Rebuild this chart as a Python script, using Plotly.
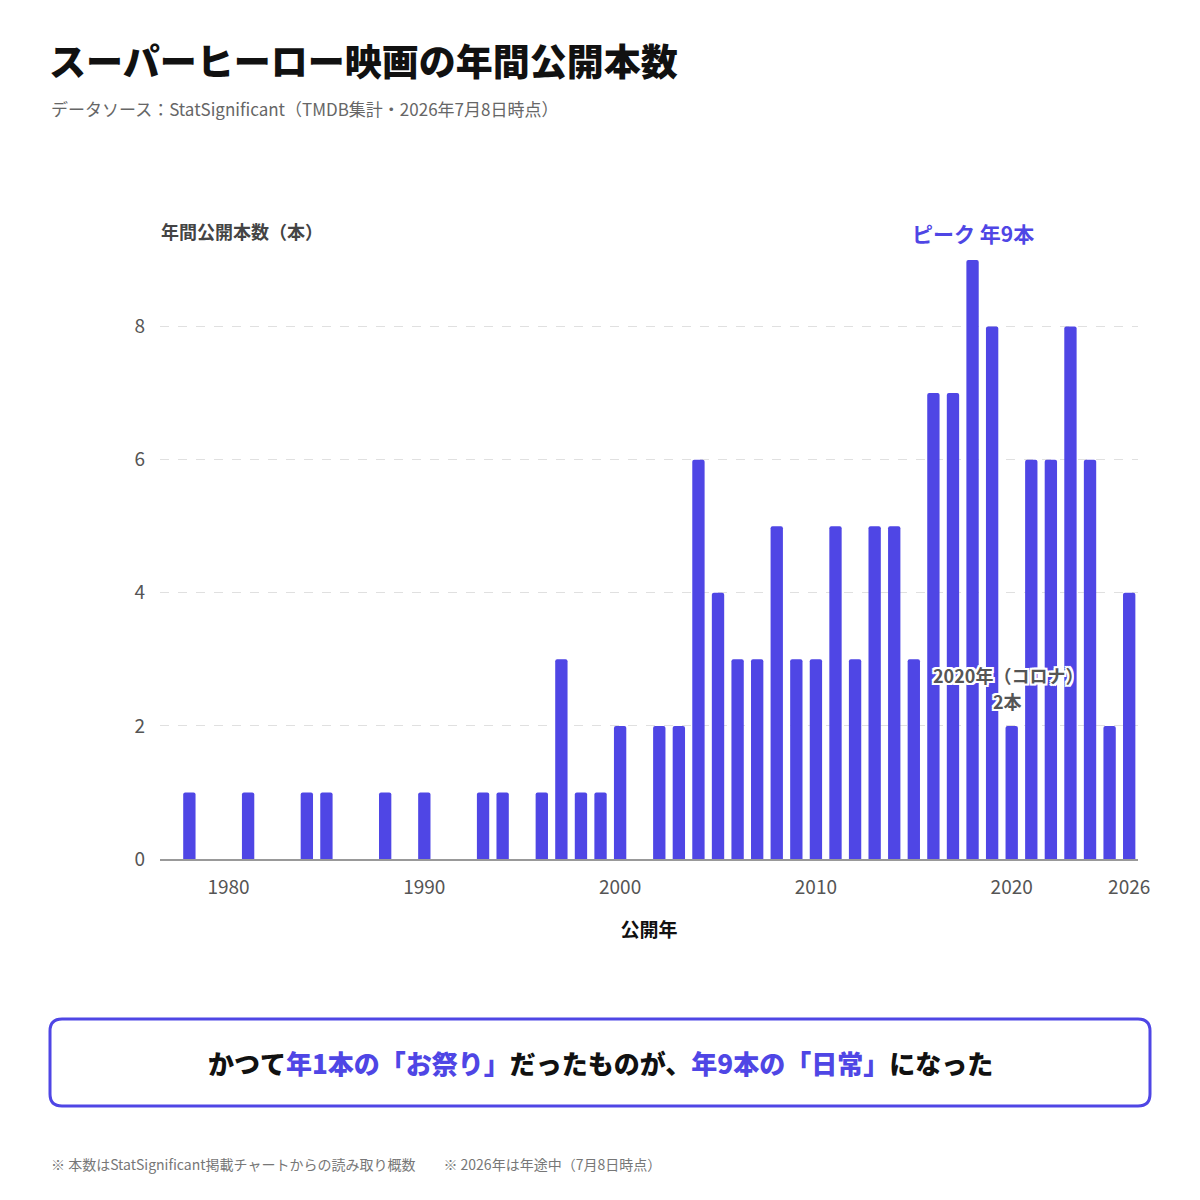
import plotly.graph_objects as go

# Données (nombre de films par an)
annees = [1978, 1981, 1984, 1985, 1988, 1990, 1993, 1994, 1996, 1997, 1998, 1999,
          2000, 2002, 2003, 2004, 2005, 2006, 2007, 2008, 2009, 2010, 2011, 2012,
          2013, 2014, 2015, 2016, 2017, 2018, 2019, 2020, 2021, 2022, 2023, 2024,
          2025, 2026]
nb_films = [1, 1, 1, 1, 1, 1, 1, 1, 1, 3, 1, 1,
            2, 2, 2, 6, 4, 3, 3, 5, 3, 3, 5, 3,
            5, 5, 3, 7, 7, 9, 8, 2, 6, 6, 8, 6,
            2, 4]
ticks_x = [1980, 1990, 2000, 2010, 2020, 2026]
ticks_y = [0, 2, 4, 6, 8]

annee_pic, valeur_pic = 2018, 9
annee_covid, valeur_covid = 2020, 2

INDIGO = "#4F46E5"
FONT = "Noto Sans CJK JP"

# La page ajoute une marge de 8 px : on travaille en pixels de la capture puis on décale
OFF = 8
W, H = 1200 - OFF, 1200 - OFF
# zone de tracé dans la capture : x 160 -> 1138, y 240 -> 859
L, R, T, B = 160 - OFF, 1200 - 1138, 240 - OFF, 1200 - 859


def px_x(x):
    return (x - OFF - L) / (W - L - R)


def px_y(y):
    return (H - B - (y - OFF)) / (H - T - B)


def rect_arrondi(x0, y0, x1, y1, r):
    # chemin en coordonnées "paper" d'un rectangle aux coins arrondis
    def p(x, y):
        return f"{px_x(x):.5f},{px_y(y):.5f}"
    pts = [
        "M " + p(x0 + r, y0),
        "L " + p(x1 - r, y0),
        "Q " + p(x1, y0) + " " + p(x1, y0 + r),
        "L " + p(x1, y1 - r),
        "Q " + p(x1, y1) + " " + p(x1 - r, y1),
        "L " + p(x0 + r, y1),
        "Q " + p(x0, y1) + " " + p(x0, y1 - r),
        "L " + p(x0, y0 + r),
        "Q " + p(x0, y0) + " " + p(x0 + r, y0),
    ]
    return " ".join(pts) + " Z"


fig = go.Figure()
fig.add_trace(go.Bar(
    x=annees, y=nb_films,
    marker=dict(color=INDIGO, cornerradius=2, line=dict(width=0)),
    width=0.63,
    hovertemplate="%{x}年: %{y}本<extra></extra>",
))

contour = ("white 2px 0 0, white -2px 0 0, white 0 2px 0, white 0 -2px 0, "
           "white 2px 2px 0, white -2px -2px 0, white 2px -2px 0, white -2px 2px 0")

annotations = [
    # sous-titre
    dict(x=px_x(49), y=px_y(108), xref="paper", yref="paper", xanchor="left", yanchor="middle",
         text="データソース：StatSignificant（TMDB集計・2026年7月8日時点）", showarrow=False,
         font=dict(family=FONT, size=17, color="#666666")),
    # titre de l'axe y
    dict(x=px_x(159), y=px_y(231), xref="paper", yref="paper", xanchor="left", yanchor="middle",
         text="年間公開本数（本）", showarrow=False,
         font=dict(family=FONT, size=18, color="#444444", weight="bold")),
    # pic
    dict(x=annee_pic, y=valeur_pic, xref="x", yref="y", xanchor="center", yanchor="bottom",
         yshift=10, text=f"ピーク 年{valeur_pic}本", showarrow=False,
         font=dict(family=FONT, size=21, color=INDIGO, weight="bold")),
    # covid (deux lignes)
    dict(x=annee_covid - 0.2, y=valeur_covid, xref="x", yref="y", xanchor="center", yanchor="bottom",
         yshift=36, text=f"{annee_covid}年（コロナ）", showarrow=False,
         font=dict(family=FONT, size=18, color="#555555", weight="bold", shadow=contour)),
    dict(x=annee_covid - 0.2, y=valeur_covid, xref="x", yref="y", xanchor="center", yanchor="bottom",
         yshift=10, text=f"{valeur_covid}本", showarrow=False,
         font=dict(family=FONT, size=18, color="#555555", weight="bold", shadow=contour)),
    # message
    dict(x=px_x(600), y=px_y(1062), xref="paper", yref="paper", xanchor="center", yanchor="middle",
         text=("かつて<span style='color:%s'>年1本の「お祭り」</span>だったものが、"
               "<span style='color:%s'>年9本の「日常」</span>になった") % (INDIGO, INDIGO),
         showarrow=False, font=dict(family=FONT, size=26, color="#111111", weight=900)),
    # notes
    dict(x=px_x(49), y=px_y(1164), xref="paper", yref="paper", xanchor="left", yanchor="middle",
         text="※ 本数はStatSignificant掲載チャートからの読み取り概数　　※ 2026年は年途中（7月8日時点）",
         showarrow=False, font=dict(family=FONT, size=14, color="#777777")),
]

shapes = [
    dict(type="path", xref="paper", yref="paper", path=rect_arrondi(50, 1019, 1150, 1106, 12),
         line=dict(color=INDIGO, width=3), fillcolor="rgba(0,0,0,0)", layer="above"),
]

fig.update_layout(
    width=W, height=H,
    margin=dict(l=L, r=R, t=T, b=B),
    paper_bgcolor="white", plot_bgcolor="white",
    showlegend=False,
    title=dict(text="スーパーヒーロー映画の年間公開本数", x=(49 - OFF) / W, xanchor="left",
               xref="container", y=1 - (63 - OFF) / H, yanchor="middle", yref="container",
               font=dict(family=FONT, size=37, color="#111111", weight=900)),
    font=dict(family=FONT),
    annotations=annotations,
    shapes=shapes,
)
fig.update_xaxes(
    range=[1976.5, 2026.45], tickvals=ticks_x, ticktext=[str(t) for t in ticks_x],
    showgrid=False, zeroline=False, showline=True, linecolor="#999999", linewidth=2,
    ticks="", ticklabelstandoff=10, tickfont=dict(family=FONT, size=19, color="#555555"),
    title=dict(text="公開年", standoff=26, font=dict(family=FONT, size=19, color="#111111", weight="bold")),
)
fig.update_yaxes(
    range=[0, 9.3], tickvals=ticks_y, showgrid=True, gridcolor="#e0e0e0", griddash="dash",
    gridwidth=1, zeroline=False, showline=False, ticks="", ticklabelstandoff=14,
    tickfont=dict(family=FONT, size=19, color="#555555"),
)

fig.write_html("out.html")
